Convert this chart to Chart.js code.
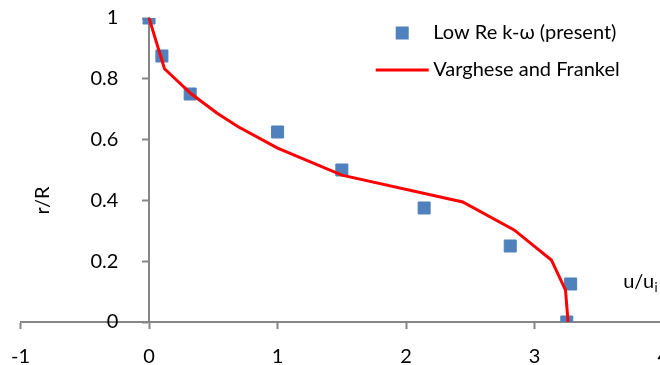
<!DOCTYPE html>
<html>
<head>
<meta charset="utf-8">
<script src="https://cdn.jsdelivr.net/npm/chart.js@4.4.1/dist/chart.umd.min.js"></script>
<style>
    html, body { margin: 0; padding: 0; background: #fff; overflow: hidden; }
    /* plot runs past the right edge of the window, as in the original */
    #wrap { position: relative; left: -6px; width: 692px; height: 365px; }
</style>
</head>
<body>
<div id="wrap"><canvas id="profileChart"></canvas></div>
<script>
    // Low Re k-omega (present) - squares
    var kwU = [0, 0.1, 0.32, 1.0, 1.5, 2.14, 2.81, 3.28, 3.25];
    var kwR = [1, 0.875, 0.75, 0.625, 0.5, 0.375, 0.25, 0.125, 0];

    // Varghese and Frankel - red line
    var vfU = [0, 0.12, 0.33, 0.53, 0.69, 1.0, 1.5, 2.44, 2.84, 3.13, 3.24, 3.26];
    var vfR = [1, 0.833, 0.75, 0.687, 0.643, 0.572, 0.483, 0.395, 0.303, 0.204, 0.105, 0];

    var seriesLabels = ['Low Re k-\u03c9 (present)', 'Varghese and Frankel'];
    var xTickLabels = ['-1', '0', '1', '2', '3', '4'];
    var yTickLabels = ['0', '0.2', '0.4', '0.6', '0.8', '1'];
    var yTitle = 'r/R';
    var xTitle = 'u/u';
    var xTitleSub = 'i';

    var fontFamily = "Lato, 'Open Sans', sans-serif";
    var fontSize = 20;
    var axisGrey = '#868686';
    // y labels sit right on an axis placed at x=0, so pad them with spaces
    var yLabelGap = '      ';

    var toPoints = function(xs, ys) {
        return xs.map(function(x, i) {
            return { x: x, y: ys[i] };
        });
    };

    // legend + axis titles drawn inside the plot area, like the excel original
    var overlayPlugin = {
        id: 'overlay',
        afterDraw: function(chart) {
            var ctx = chart.ctx;
            var area = chart.chartArea;
            var ys = chart.scales.y;

            ctx.save();
            ctx.fillStyle = '#000';
            ctx.font = fontSize + 'px ' + fontFamily;
            ctx.textBaseline = 'middle';
            ctx.textAlign = 'left';

            var textX = area.right - 230;
            var symX = textX - 31;
            var rows = [area.top + 15, area.top + 52];

            chart.data.datasets.forEach(function(ds, i) {
                var cy = rows[i];
                if (ds.showLine) {
                    ctx.strokeStyle = ds.borderColor;
                    ctx.lineWidth = 3;
                    ctx.beginPath();
                    ctx.moveTo(symX - 26.5, cy);
                    ctx.lineTo(symX + 26.5, cy);
                    ctx.stroke();
                } else {
                    ctx.fillStyle = ds.backgroundColor;
                    ctx.fillRect(symX - 6.5, cy - 6.5, 13, 13);
                }
                ctx.fillStyle = '#000';
                ctx.fillText(ds.label, textX, cy);
            });

            // y title, rotated
            ctx.save();
            ctx.translate(area.left + 22, ys.getPixelForValue(0.4));
            ctx.rotate(-Math.PI / 2);
            ctx.textAlign = 'center';
            ctx.fillText(yTitle, 0, 0);
            ctx.restore();

            // x title with subscript
            var tx = area.right - 40;
            var ty = ys.getPixelForValue(0) - 34;
            ctx.textBaseline = 'alphabetic';
            ctx.fillText(xTitle, tx, ty);
            var w = ctx.measureText(xTitle).width;
            ctx.font = '13px ' + fontFamily;
            ctx.fillText(xTitleSub, tx + w + 0.5, ty + 4);

            ctx.restore();
        }
    };

    var config = {
        type: 'scatter',
        data: {
            datasets: [{
                label: seriesLabels[0],
                data: toPoints(kwU, kwR),
                showLine: false,
                pointStyle: 'rect',
                pointRadius: 8.5,
                pointHoverRadius: 8.5,
                backgroundColor: '#4f81bd',
                borderColor: '#4f81bd',
                borderWidth: 1,
                order: 2
            }, {
                label: seriesLabels[1],
                data: toPoints(vfU, vfR),
                showLine: true,
                pointRadius: 0,
                borderColor: '#ff0000',
                backgroundColor: '#ff0000',
                borderWidth: 3,
                tension: 0,
                order: 1
            }]
        },
        options: {
            responsive: true,
            maintainAspectRatio: false,
            animation: false,
            layout: {
                padding: { left: 10, top: 18, right: 10, bottom: 43 }
            },
            plugins: {
                legend: { display: false },
                tooltip: { enabled: false }
            },
            scales: {
                x: {
                    type: 'linear',
                    min: -1,
                    max: 4,
                    position: { y: 0 },
                    border: { color: axisGrey, width: 2 },
                    grid: {
                        drawOnChartArea: false,
                        drawTicks: true,
                        tickLength: 6,
                        tickColor: axisGrey,
                        tickWidth: 2
                    },
                    ticks: {
                        stepSize: 1,
                        padding: 17,
                        color: '#000',
                        font: { family: fontFamily, size: fontSize },
                        callback: function(value, index) {
                            return xTickLabels[index];
                        }
                    }
                },
                y: {
                    type: 'linear',
                    min: 0,
                    max: 1,
                    position: { x: 0 },
                    border: { color: axisGrey, width: 2 },
                    grid: {
                        drawOnChartArea: false,
                        drawTicks: true,
                        tickLength: 6,
                        tickColor: axisGrey,
                        tickWidth: 2
                    },
                    ticks: {
                        stepSize: 0.2,
                        padding: 0,
                        color: '#000',
                        font: { family: fontFamily, size: fontSize },
                        callback: function(value, index) {
                            return yTickLabels[index] + yLabelGap;
                        }
                    }
                }
            }
        },
        plugins: [overlayPlugin]
    };

    var profileChart = new Chart(document.getElementById('profileChart').getContext('2d'), config);
</script>
</body>
</html>
